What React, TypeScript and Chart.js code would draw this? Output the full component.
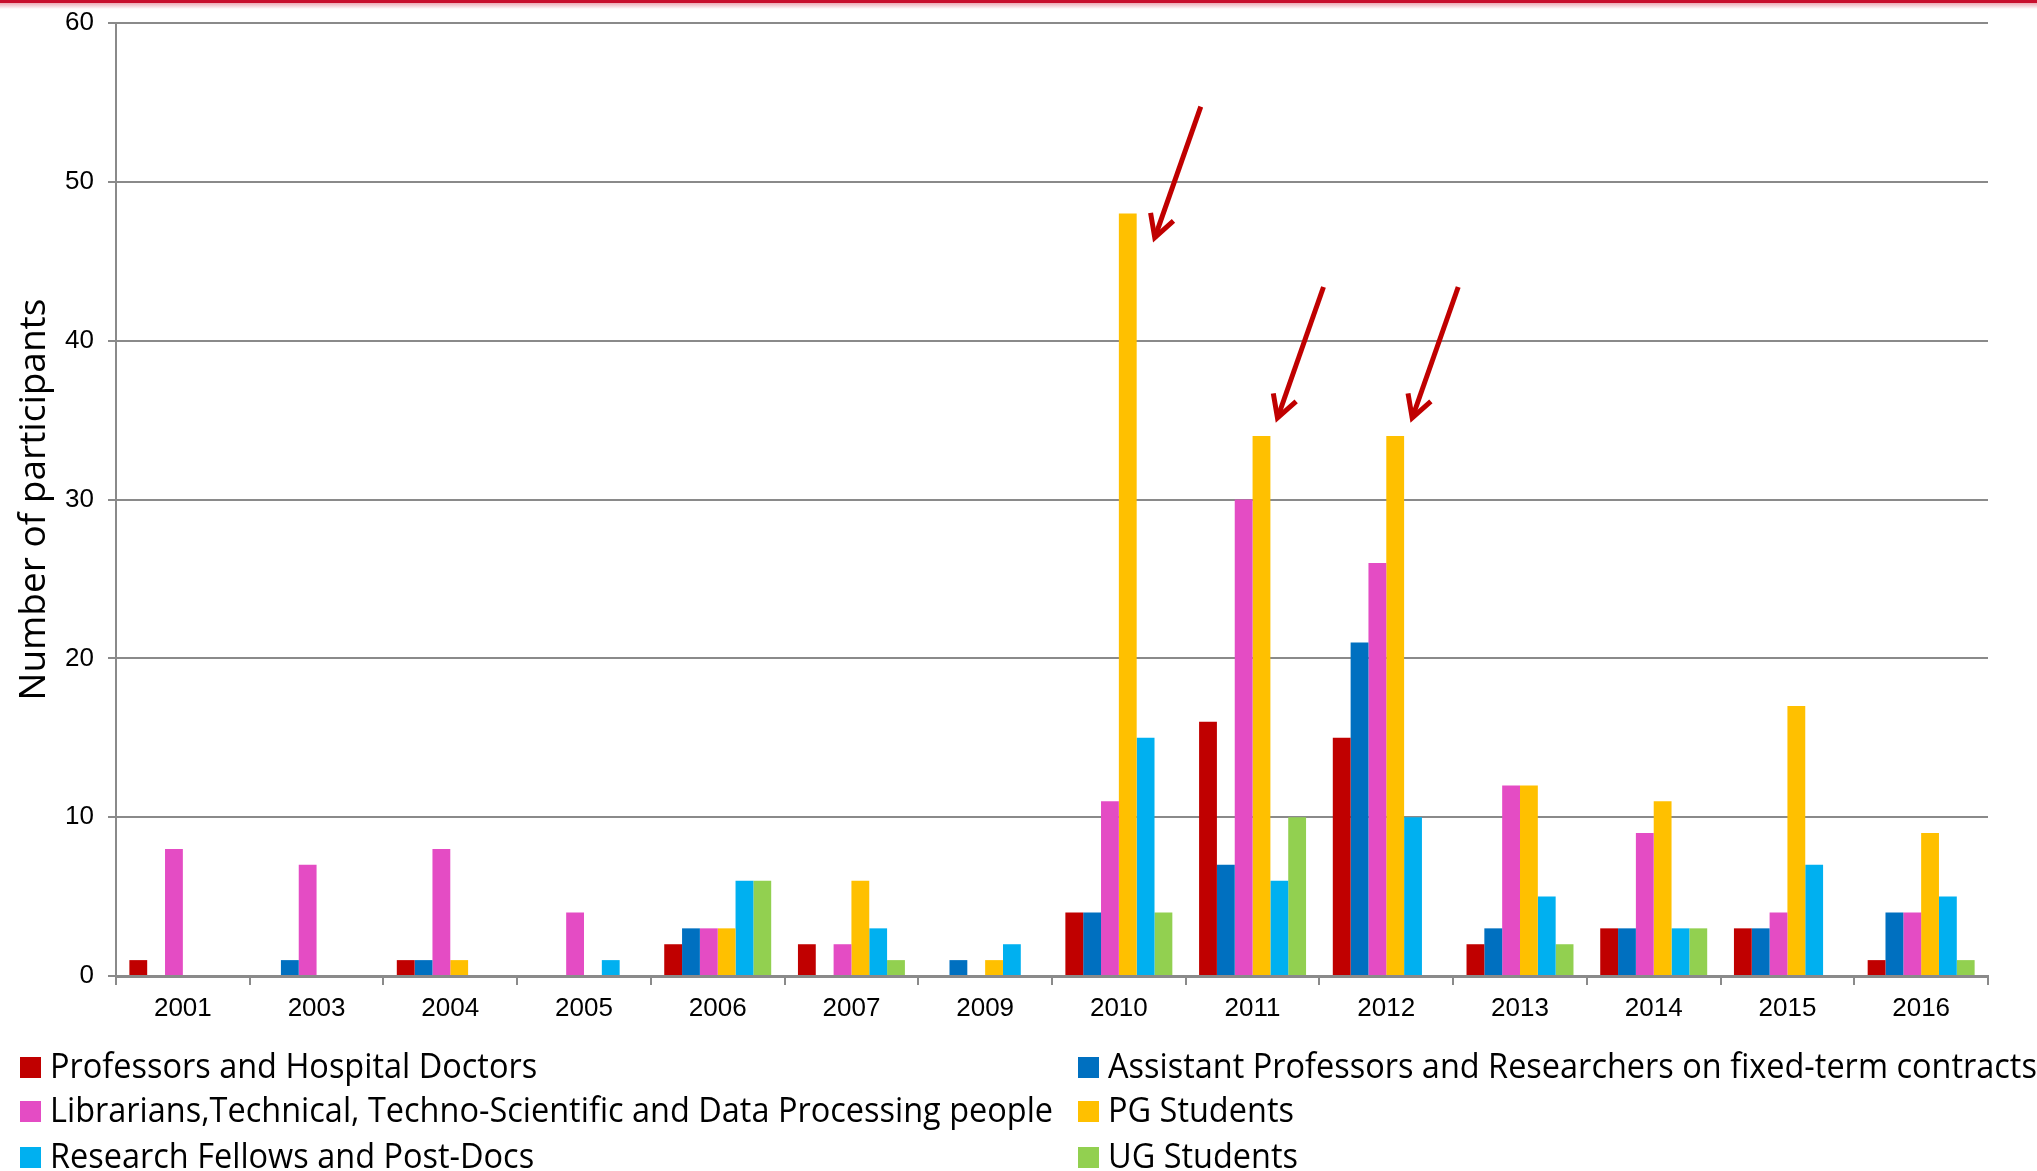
import React, { useEffect, useRef } from "react";
import { Chart, registerables } from "chart.js";

Chart.register(...registerables);

const years = ["2001", "2003", "2004", "2005", "2006", "2007", "2009", "2010", "2011", "2012", "2013", "2014", "2015", "2016"];
const professors = [1, 0, 1, 0, 2, 2, 0, 4, 16, 15, 2, 3, 3, 1];
const assistants = [0, 1, 1, 0, 3, 0, 1, 4, 7, 21, 3, 3, 3, 4];
const librarians = [8, 7, 8, 4, 3, 2, 0, 11, 30, 26, 12, 9, 4, 4];
const pgStudents = [0, 0, 1, 0, 3, 6, 1, 48, 34, 34, 12, 11, 17, 9];
const researchFellows = [0, 0, 0, 1, 6, 3, 2, 15, 6, 10, 5, 3, 7, 5];
const ugStudents = [0, 0, 0, 0, 6, 1, 0, 4, 10, 0, 2, 3, 0, 1];
const yTicks = [0, 10, 20, 30, 40, 50, 60];

const seriesLabels = [
  "Professors and Hospital Doctors",
  "Assistant Professors and Researchers on fixed-term contracts",
  "Librarians,Technical, Techno-Scientific and Data Processing people",
  "PG Students",
  "Research Fellows and Post-Docs",
  "UG Students",
];
const seriesColors = ["#C00000", "#0070C0", "#E44CC4", "#FFC000", "#00B0F0", "#92D050"];
// arrows point at PG Students bars of these years
const arrowYears = ["2010", "2011", "2012"];

const W = 2037;
const H = 1171;

const topLinePlugin = {
  id: "topLine",
  beforeDraw(chart: any) {
    const ctx = chart.ctx;
    ctx.save();
    ctx.fillStyle = "#ffffff";
    ctx.fillRect(0, 0, chart.width, chart.height);
    ctx.fillStyle = "#C8102E";
    ctx.fillRect(0, 0, chart.width, 3);
    const g = ctx.createLinearGradient(0, 3, 0, 9);
    g.addColorStop(0, "rgba(200,16,46,0.35)");
    g.addColorStop(1, "rgba(200,16,46,0)");
    ctx.fillStyle = g;
    ctx.fillRect(0, 3, chart.width, 6);
    ctx.restore();
  },
};

const arrowPlugin = {
  id: "arrows",
  afterDatasetsDraw(chart: any) {
    const ctx = chart.ctx;
    const meta = chart.getDatasetMeta(3);
    const offsets = [
      [27, 24],
      [16, -18],
      [17, -18],
    ];
    ctx.save();
    ctx.strokeStyle = "#C00000";
    ctx.lineWidth = 5;
    ctx.lineCap = "butt";
    ctx.lineJoin = "miter";
    arrowYears.forEach((yr, i) => {
      const idx = years.indexOf(yr);
      const el = meta.data[idx];
      if (!el) return;
      const tipX = el.x + offsets[i][0];
      const tipY = el.y + offsets[i][1];
      const tailX = tipX + 46;
      const tailY = tipY - 131;
      ctx.beginPath();
      ctx.moveTo(tailX, tailY);
      ctx.lineTo(tipX, tipY);
      ctx.stroke();
      const ang = Math.atan2(tailY - tipY, tailX - tipX);
      const len = 25;
      const spread = (29 * Math.PI) / 180;
      ctx.beginPath();
      ctx.moveTo(tipX + len * Math.cos(ang - spread), tipY + len * Math.sin(ang - spread));
      ctx.lineTo(tipX, tipY);
      ctx.lineTo(tipX + len * Math.cos(ang + spread), tipY + len * Math.sin(ang + spread));
      ctx.stroke();
    });
    ctx.restore();
  },
};

const legendPlugin = {
  id: "gridLegend",
  afterDraw(chart: any) {
    const ctx = chart.ctx;
    const ds = chart.data.datasets;
    const colX = [20, 1078];
    const rowY = [1067, 1111, 1157];
    ctx.save();
    ctx.font = '34px "Open Sans"';
    ctx.textBaseline = "middle";
    ctx.fillStyle = "#000000";
    ds.forEach((d: any, i: number) => {
      const col = i % 2;
      const row = Math.floor(i / 2);
      const x = colX[col];
      const y = rowY[row];
      ctx.fillStyle = d.backgroundColor;
      ctx.fillRect(x, y - 10, 21, 21);
      ctx.fillStyle = "#000000";
      ctx.save();
      ctx.translate(x + 30, y);
      ctx.scale(0.955, 1);
      ctx.fillText(d.label, 0, 1);
      ctx.restore();
    });
    ctx.restore();
  },
};

export default function App() {
  const ref = useRef<HTMLCanvasElement>(null);

  useEffect(() => {
    if (!ref.current) return;
    const seriesData = [professors, assistants, librarians, pgStudents, researchFellows, ugStudents];
    const chart = new Chart(ref.current, {
      type: "bar",
      data: {
        labels: years,
        datasets: seriesData.map((d, i) => ({
          label: seriesLabels[i],
          data: d,
          backgroundColor: seriesColors[i],
          borderWidth: 0,
          categoryPercentage: 0.8,
          barPercentage: 1.0,
        })),
      },
      options: {
        responsive: false,
        animation: false,
        devicePixelRatio: 1,
        layout: { padding: { top: 23, right: 49, left: 0, bottom: 0 } },
        plugins: {
          legend: { display: false },
          tooltip: { enabled: false },
        },
        scales: {
          x: {
            offset: true,
            grid: {
              display: true,
              offset: true,
              drawOnChartArea: false,
              drawTicks: true,
              tickLength: 9,
              color: "#8a8a8a",
              lineWidth: 2,
            },
            border: { display: true, color: "#8a8a8a", width: 3 },
            ticks: {
              color: "#000000",
              font: { family: '"Liberation Sans", Arial, sans-serif', size: 26 },
              padding: 8,
              maxRotation: 0,
              autoSkip: false,
            },
            afterFit(scale: any) {
              scale.height = H - 976;
              scale.paddingLeft = 0;
              scale.paddingRight = 0;
            },
          },
          y: {
            min: 0,
            max: 60,
            afterBuildTicks(scale: any) {
              scale.ticks = yTicks.map((v) => ({ value: v }));
            },
            grid: {
              color: "#8a8a8a",
              lineWidth: 2,
              drawTicks: true,
              tickLength: 8,
            },
            border: { display: true, color: "#8a8a8a", width: 2 },
            ticks: {
              color: "#000000",
              font: { family: '"Liberation Sans", Arial, sans-serif', size: 26 },
              padding: 14,
            },
            title: {
              display: true,
              text: "Number of participants",
              color: "#000000",
              font: { family: '"Open Sans", sans-serif', size: 37 },
              padding: { top: 12, bottom: 0 },
            },
            afterFit(scale: any) {
              scale.width = 116;
              scale.paddingTop = 0;
              scale.paddingBottom = 0;
            },
          },
        },
      },
      plugins: [topLinePlugin, arrowPlugin, legendPlugin],
    });
    return () => chart.destroy();
  }, []);

  return (
    <div style={{ position: "absolute", left: 0, top: 0, width: W, height: H, background: "#ffffff" }}>
      <canvas ref={ref} width={W} height={H} style={{ display: "block", width: W, height: H }} />
    </div>
  );
}
